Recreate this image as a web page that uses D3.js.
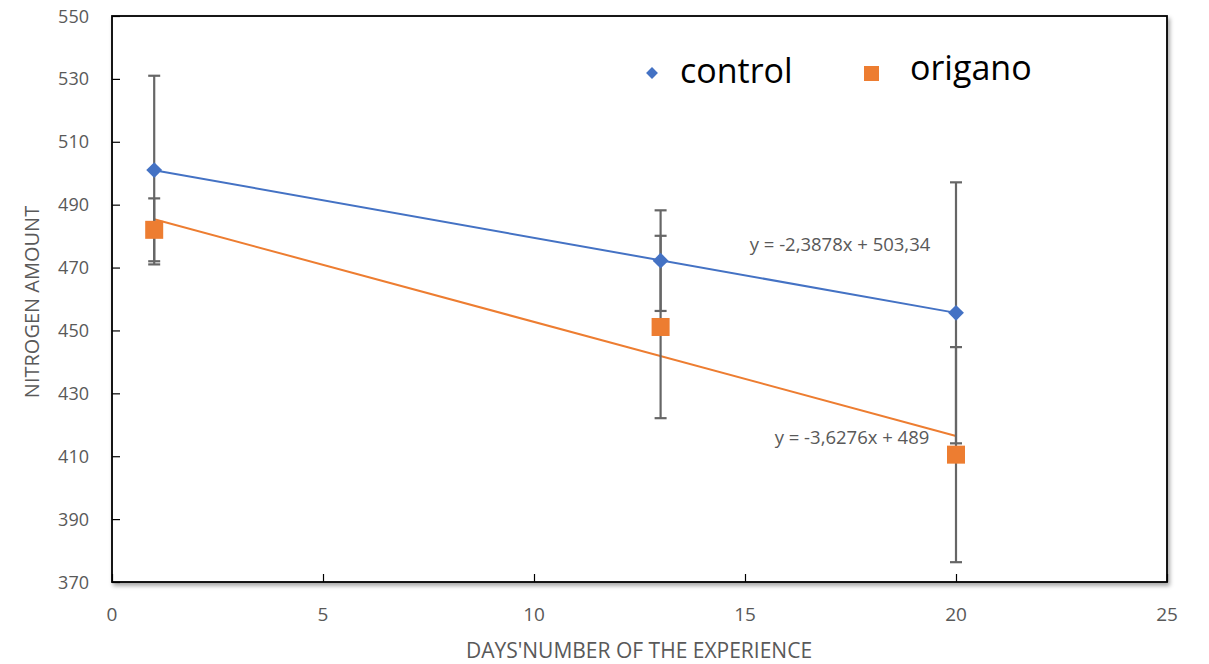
<!DOCTYPE html>
<html>
<head>
<meta charset="utf-8">
<script src="https://cdn.jsdelivr.net/npm/d3@7"></script>
<style>
	body { margin: 0; background: #fff; }
	svg { display: block; }
</style>
</head>
<body>
<div id="chart"></div>
<script>
// chart data
const days = [1, 13, 20];
const controlValues = [501, 472.2, 455.6];
const controlErrors = [30, 16, 41.5];
const origanoValues = [482, 451.1, 410.5];
const origanoErrors = [10, 29, 34.2];
const seriesNames = ['control', 'origano'];
const trendLabels = ['y = -2,3878x + 503,34', 'y = -3,6276x + 489'];
const trendCoefs = [[-2.3878, 503.34], [-3.6276, 489]];
const xTicks = [0, 5, 10, 15, 20, 25];
const yTicks = [370, 390, 410, 430, 450, 470, 490, 510, 530, 550];

const width = 1209;
const height = 664;
const margin = { top: 16, right: 42, bottom: 82, left: 112 };
const grey = '#595959';
const blue = '#4472C4';
const orange = '#ED7D31';
const font = '"Open Sans", sans-serif';

const svg = d3.select('#chart')
	.append('svg')
	.attr('width', width)
	.attr('height', height);

const x = d3.scaleLinear().domain([0, 25]).range([margin.left, width - margin.right]);
const y = d3.scaleLinear().domain([370, 550]).range([height - margin.bottom, margin.top]);

// shadow for the plot frame
const defs = svg.append('defs');
const filter = defs.append('filter').attr('id', 'shadow')
	.attr('x', '-5%').attr('y', '-5%').attr('width', '110%').attr('height', '112%');
filter.append('feDropShadow')
	.attr('dx', 2).attr('dy', 3).attr('stdDeviation', 2)
	.attr('flood-color', '#000').attr('flood-opacity', 0.35);

svg.append('rect')
	.attr('x', x(0))
	.attr('y', y(550))
	.attr('width', x(25) - x(0))
	.attr('height', y(370) - y(550))
	.attr('fill', '#fff')
	.attr('stroke', '#000')
	.attr('stroke-width', 1.8)
	.attr('filter', 'url(#shadow)');

// axes with inward ticks
const yAxis = svg.append('g')
	.attr('transform', `translate(${x(0)},0)`)
	.call(d3.axisRight(y).tickValues(yTicks).tickSize(8).tickFormat(''));
yAxis.select('.domain').remove();
yAxis.selectAll('line').attr('stroke', '#000').attr('stroke-width', 1.2);

const xAxis = svg.append('g')
	.attr('transform', `translate(0,${y(370)})`)
	.call(d3.axisTop(x).tickValues(xTicks).tickSize(8).tickFormat(''));
xAxis.select('.domain').remove();
xAxis.selectAll('line').attr('stroke', '#000').attr('stroke-width', 1.2);

// tick labels
svg.append('g').selectAll('text')
	.data(yTicks)
	.join('text')
	.attr('x', 89)
	.attr('y', d => y(d) + 6.5)
	.attr('text-anchor', 'end')
	.attr('font-family', font)
	.attr('font-size', 18)
	.attr('fill', grey)
	.text(d => d);

svg.append('g').selectAll('text')
	.data(xTicks)
	.join('text')
	.attr('x', d => x(d))
	.attr('y', 621)
	.attr('text-anchor', 'middle')
	.attr('font-family', font)
	.attr('font-size', 19)
	.attr('fill', grey)
	.text(d => d);

// axis titles
svg.append('text')
	.attr('transform', 'translate(39,302) rotate(-90)')
	.attr('text-anchor', 'middle')
	.attr('font-family', font)
	.attr('font-size', 20)
	.attr('fill', grey)
	.text('NITROGEN AMOUNT');

svg.append('text')
	.attr('x', 639)
	.attr('y', 658)
	.attr('text-anchor', 'middle')
	.attr('font-family', font)
	.attr('font-size', 21)
	.attr('fill', grey)
	.text("DAYS'NUMBER OF THE EXPERIENCE");

// trend lines
const colors = [blue, orange];
trendCoefs.forEach((c, i) => {
	svg.append('line')
		.attr('x1', x(days[0]))
		.attr('y1', y(c[0] * days[0] + c[1]))
		.attr('x2', x(days[days.length - 1]))
		.attr('y2', y(c[0] * days[days.length - 1] + c[1]))
		.attr('stroke', colors[i])
		.attr('stroke-width', 2);
});

// error bars
function drawErrors(values, errors) {
	const g = svg.append('g').attr('stroke', '#666').attr('stroke-width', 2.2);
	days.forEach((d, i) => {
		const lo = values[i] - errors[i];
		const hi = values[i] + errors[i];
		g.append('line').attr('x1', x(d)).attr('x2', x(d)).attr('y1', y(lo)).attr('y2', y(hi));
		g.append('line').attr('x1', x(d) - 6).attr('x2', x(d) + 6).attr('y1', y(lo)).attr('y2', y(lo));
		g.append('line').attr('x1', x(d) - 6).attr('x2', x(d) + 6).attr('y1', y(hi)).attr('y2', y(hi));
	});
}
drawErrors(controlValues, controlErrors);
drawErrors(origanoValues, origanoErrors);

// markers
const diamond = d3.symbol().type(d3.symbolDiamond2).size(160);
svg.append('g').selectAll('path')
	.data(days)
	.join('path')
	.attr('d', diamond)
	.attr('transform', (d, i) => `translate(${x(d)},${y(controlValues[i])})`)
	.attr('fill', blue);

svg.append('g').selectAll('rect')
	.data(days)
	.join('rect')
	.attr('x', d => x(d) - 9)
	.attr('y', (d, i) => y(origanoValues[i]) - 9)
	.attr('width', 18)
	.attr('height', 18)
	.attr('fill', orange);

// trendline equations
const labelPos = [[840, 251], [852, 444]];
svg.append('g').selectAll('text')
	.data(trendLabels)
	.join('text')
	.attr('x', (d, i) => labelPos[i][0])
	.attr('y', (d, i) => labelPos[i][1])
	.attr('text-anchor', 'middle')
	.attr('font-family', font)
	.attr('font-size', 18.5)
	.attr('fill', grey)
	.text(d => d);

// legend
svg.append('path')
	.attr('d', d3.symbol().type(d3.symbolDiamond2).size(90))
	.attr('transform', 'translate(652,73)')
	.attr('fill', blue);
svg.append('rect')
	.attr('x', 864).attr('y', 66).attr('width', 15).attr('height', 15)
	.attr('fill', orange);
svg.append('g').selectAll('text')
	.data(seriesNames)
	.join('text')
	.attr('x', (d, i) => (i === 0 ? 680 : 910))
	.attr('y', (d, i) => (i === 0 ? 83 : 80))
	.attr('font-family', font)
	.attr('font-size', 34)
	.attr('fill', '#000')
	.text(d => d);
</script>
</body>
</html>
